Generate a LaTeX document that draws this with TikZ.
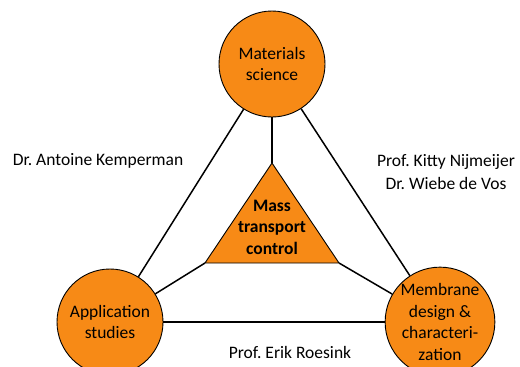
\documentclass[tikz,border=0pt]{standalone}
\usepackage{fontspec}
\setmainfont{Carlito}
\frenchspacing
\definecolor{orng}{RGB}{247,138,22}
\begin{document}
\begin{tikzpicture}[x=1pt,y=-1pt,
  topic/.style={circle,draw=black,line width=0.9pt,fill=orng,minimum size=106pt,inner sep=0pt,align=center,font=\fontsize{17.5}{21.5}\selectfont},
  link/.style={line width=1.5pt,black},
  person/.style={align=center,font=\fontsize{17.5}{23}\selectfont}]
\useasboundingbox (0,0) rectangle (520,367);
\node[topic] (ms) at (272,64) {Materials\\science};
\node[topic] (as) at (110,322) {Application\\studies};
\node[topic] (md) at (440,322) {Membrane\\design \&\\characteri-\\zation};
\coordinate (ta) at (272,163);
\coordinate (tl) at (205,263);
\coordinate (tr) at (339,263);
\draw[link] (ms) -- (as);
\draw[link] (ms) -- (md);
\draw[link] (as) -- (md);
\draw[link] (ms) -- (ta);
\draw[link] (tl) -- (as);
\draw[link] (tr) -- (md);
\draw[line width=0.9pt,fill=orng] (ta) -- (tl) -- (tr) -- cycle;
\node[font=\bfseries\fontsize{17.5}{21.5}\selectfont,align=center] (mt) at (272,227) {Mass\\transport\\control};
\node[person] (ak) at (98,161) {Dr. Antoine Kemperman};
\node[person] (kn) at (446,172) {Prof. Kitty Nijmeijer\\Dr. Wiebe de Vos};
\node[person] (er) at (290,352) {Prof. Erik Roesink};
\end{tikzpicture}
\end{document}
